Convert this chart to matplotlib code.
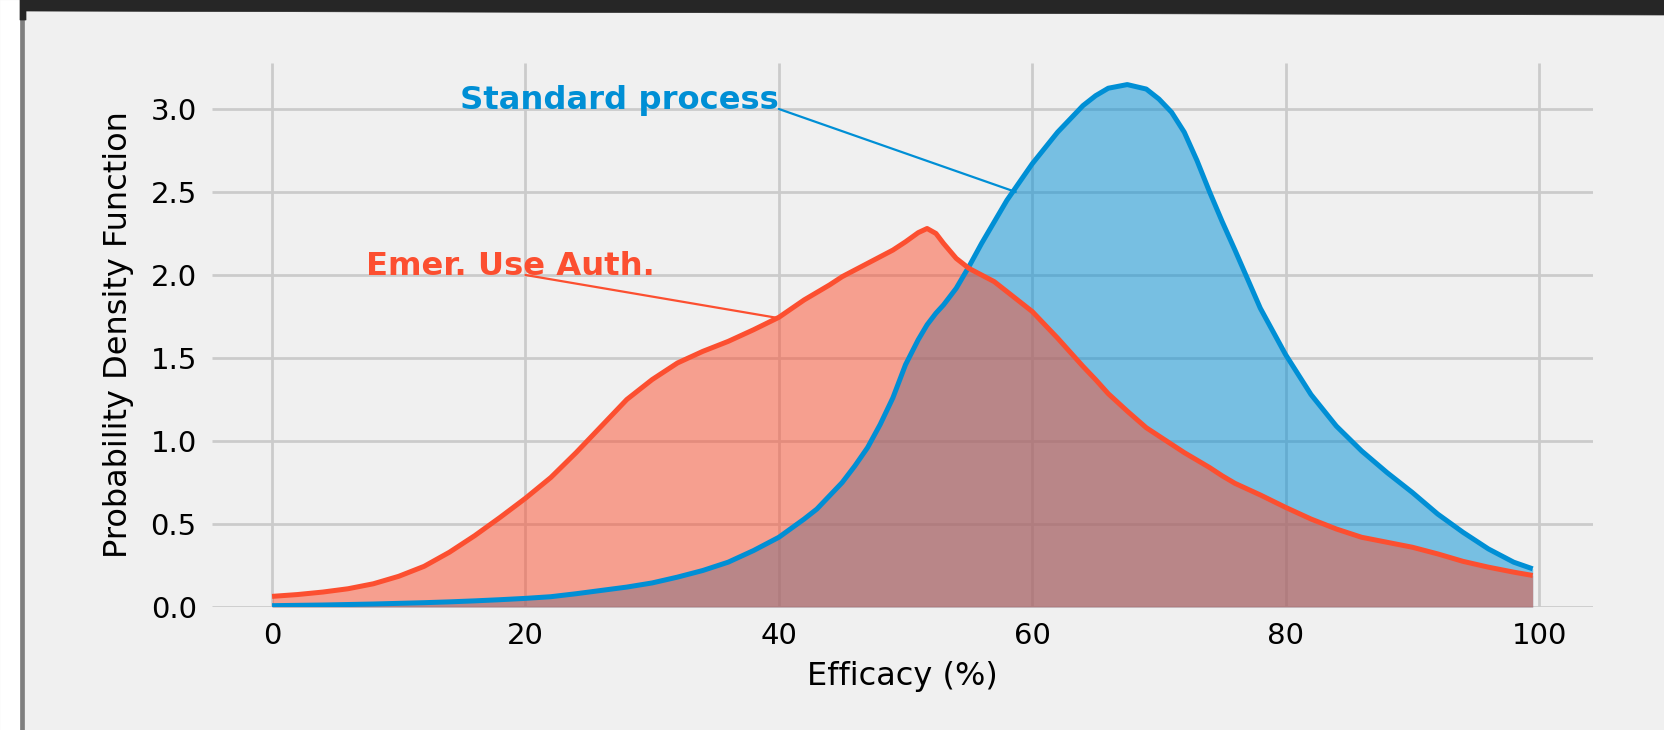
import numpy as np
import matplotlib.pyplot as plt
from matplotlib.patches import Rectangle, Polygon

# efficacy grid (%) and density estimates
efficacy = [0, 2, 4, 6, 8, 10, 12, 14, 16, 18, 20, 22, 24, 26, 28, 30, 32, 34, 36, 38,
            40, 42, 43, 44, 45, 46, 47, 48, 49, 50, 51, 51.7, 52.4, 53, 54, 55, 56, 57,
            58, 60, 62, 64, 65, 66, 67.5, 69, 70, 71, 72, 73, 74, 75, 76, 78, 80, 82,
            84, 86, 88, 90, 92, 94, 96, 98, 99.5]
standard = [0.008, 0.010, 0.012, 0.015, 0.018, 0.022, 0.026, 0.031, 0.037, 0.044, 0.052,
            0.062, 0.08, 0.10, 0.12, 0.145, 0.18, 0.22, 0.27, 0.34, 0.42, 0.53, 0.59,
            0.67, 0.75, 0.85, 0.96, 1.10, 1.26, 1.46, 1.61, 1.70, 1.77, 1.82, 1.92, 2.05,
            2.19, 2.32, 2.45, 2.67, 2.86, 3.02, 3.08, 3.125, 3.147, 3.12, 3.06, 2.98,
            2.86, 2.69, 2.50, 2.32, 2.15, 1.80, 1.52, 1.28, 1.09, 0.94, 0.81, 0.69, 0.56,
            0.45, 0.35, 0.27, 0.23]
emergency = [0.064, 0.075, 0.090, 0.110, 0.140, 0.185, 0.245, 0.330, 0.430, 0.540, 0.655,
             0.780, 0.93, 1.09, 1.25, 1.37, 1.47, 1.54, 1.60, 1.67, 1.745, 1.85, 1.895,
             1.94, 1.99, 2.03, 2.07, 2.11, 2.15, 2.20, 2.255, 2.28, 2.25, 2.19, 2.10,
             2.04, 2.00, 1.96, 1.90, 1.78, 1.62, 1.45, 1.37, 1.285, 1.18, 1.08, 1.03,
             0.98, 0.93, 0.885, 0.84, 0.79, 0.745, 0.675, 0.60, 0.53, 0.47, 0.42, 0.39,
             0.36, 0.32, 0.275, 0.24, 0.21, 0.19]

labels = ['Standard process', 'Emer. Use Auth.']
blue = '#008fd5'
red = '#fc4f30'

plt.style.use('fivethirtyeight')
plt.rcParams['font.family'] = ['DejaVu Sans']

fig = plt.figure(figsize=(16.65, 7.3), dpi=100, facecolor='#f0f0f0')
ax = fig.add_axes([0.12733, 0.16849, 0.82943, 0.74521])
ax.set_facecolor('#f0f0f0')
ax.set_axisbelow(True)

ax.fill_between(efficacy, standard, color=blue, alpha=0.5, lw=0, zorder=2)
ax.fill_between(efficacy, emergency, color=red, alpha=0.5, lw=0, zorder=2)
ax.plot(efficacy, standard, color=blue, lw=3.6, zorder=3, solid_joinstyle='round')
ax.plot(efficacy, emergency, color=red, lw=3.6, zorder=3, solid_joinstyle='round')

# labels with thin connector lines
ax.text(40, 3.0, labels[0], color=blue, fontsize=23.2, fontweight='bold',
        ha='right', va='baseline')
ax.annotate('', xy=(58.7, 2.5), xytext=(40, 3.0),
            arrowprops=dict(arrowstyle='-', color=blue, lw=1.6, shrinkA=0, shrinkB=0))
ax.text(7.4, 2.0, labels[1], color=red, fontsize=23.2, fontweight='bold',
        ha='left', va='baseline')
ax.annotate('', xy=(40, 1.74), xytext=(20, 2.0),
            arrowprops=dict(arrowstyle='-', color=red, lw=1.6, shrinkA=0, shrinkB=0))

ax.set_xlim(-4.74, 104.26)
ax.set_ylim(0, 3.277)
ax.set_xticks([0, 20, 40, 60, 80, 100])
ax.set_yticks([0.0, 0.5, 1.0, 1.5, 2.0, 2.5, 3.0])
ax.tick_params(axis='both', labelsize=21, length=0, pad=11)
ax.grid(True, color='#cbcbcb', lw=2)
for s in ax.spines.values():
    s.set_visible(False)
ax.set_xlabel('Efficacy (%)', fontsize=23, labelpad=8)
ax.set_ylabel('Probability Density Function', fontsize=23, labelpad=12)

# window frame bits from the screenshot
fig.add_artist(Rectangle((0, 0), 20 / 1665, 1, transform=fig.transFigure,
                         color='white', zorder=10))
fig.add_artist(Rectangle((20.5 / 1665, 0), 4 / 1665, 1, transform=fig.transFigure,
                         color='#7f7f7f', zorder=10))
fig.add_artist(Polygon([(20 / 1665, 1), (1, 1), (1, 1 - 15 / 730),
                        (26 / 1665, 1 - 11 / 730), (26 / 1665, 1 - 20 / 730),
                        (20 / 1665, 1 - 20 / 730)],
                       closed=True, transform=fig.transFigure, color='#262626', zorder=11))

fig.savefig('out.png', dpi=100, facecolor=fig.get_facecolor())
